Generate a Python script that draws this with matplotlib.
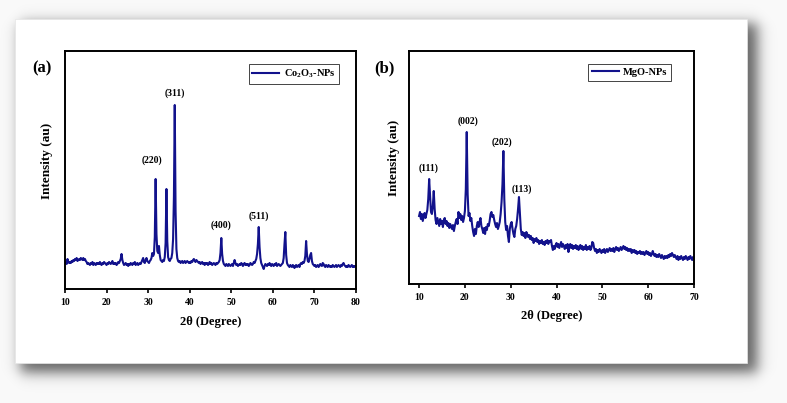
import numpy as np
import matplotlib
matplotlib.use("Agg")
import matplotlib.pyplot as plt
from matplotlib.patches import Rectangle

# ---------------- data ----------------
# Panel (a): Co3O4 nanoparticles, 2theta 10..80 deg, step 0.2
two_theta_a = np.round(np.arange(10.0, 80.01, 0.2), 1)
intensity_a = [
    26, 27, 25, 30, 27, 26, 27, 26, 28, 27,
    29, 28, 30, 29, 31, 28, 29, 30, 29, 31,
    30, 29, 31, 29, 30, 28, 27, 25, 26, 25,
    24, 26, 25, 27, 24, 26, 25, 24, 26, 25,
    26, 25, 27, 25, 24, 26, 25, 27, 26, 25,
    24, 26, 25, 27, 26, 25, 26, 28, 25, 26,
    25, 26, 24, 25, 27, 26, 28, 30, 35, 29,
    26, 24, 25, 26, 24, 25, 23, 25, 24, 26,
    25, 24, 26, 25, 27, 24, 25, 26, 24, 25,
    26, 25, 27, 29, 31, 27, 26, 29, 31, 28,
    27, 26, 28, 29, 31, 36, 33, 35, 52, 110,
    55, 38, 36, 43, 34, 29, 28, 27, 29, 28,
    32, 46, 100, 48, 32, 29, 28, 30, 31, 36,
    50, 92, 184, 78, 40, 31, 28, 27, 28, 26,
    27, 28, 26, 27, 28, 26, 27, 28, 27, 26,
    27, 26, 28, 27, 29, 30, 28, 27, 29, 28,
    27, 26, 27, 25, 26, 27, 25, 26, 24, 26,
    25, 26, 24, 25, 27, 25, 26, 24, 25, 26,
    25, 24, 26, 25, 26, 27, 29, 36, 51, 35,
    28, 25, 24, 23, 25, 24, 23, 25, 24, 23,
    24, 25, 23, 26, 29, 26, 24, 25, 23, 24,
    25, 24, 26, 25, 23, 25, 26, 24, 25, 24,
    25, 23, 24, 26, 25, 24, 25, 27, 26, 28,
    30, 35, 45, 62, 42, 31, 26, 24, 22, 20,
    23, 25, 24, 23, 25, 24, 26, 24, 23, 25,
    24, 23, 25, 24, 26, 23, 24, 25, 24, 23,
    24, 25, 26, 31, 45, 57, 34, 26, 24, 23,
    22, 24, 23, 22, 24, 23, 21, 23, 24, 22,
    23, 24, 22, 25, 26, 25, 27, 26, 28, 33,
    48, 35, 28, 27, 30, 34, 36, 28, 25, 24,
    23, 24, 22, 23, 24, 22, 23, 25, 24, 23,
    26, 25, 23, 22, 24, 23, 22, 24, 23, 22,
    23, 22, 24, 23, 22, 23, 24, 22, 23, 24,
    23, 22, 24, 23, 25, 26, 24, 23, 22, 23,
    22, 24, 23, 22, 23, 24, 22, 23, 22, 23,
    23,
]

# Panel (b): MgO nanoparticles, 2theta 10..70 deg, step 0.2
two_theta_b = np.round(np.arange(10.0, 70.01, 0.2), 1)
intensity_b = [
    68, 72, 65, 70, 63, 67, 71, 66, 70, 74,
    85, 105, 88, 72, 70, 78, 93, 75, 64, 60,
    66, 62, 58, 65, 60, 63, 57, 64, 66, 60,
    63, 58, 61, 56, 60, 57, 55, 59, 53, 58,
    62, 65, 60, 72, 66, 70, 64, 68, 62, 66,
    73, 95, 152, 90, 68, 71, 63, 66, 58, 52,
    48, 55, 50, 58, 62, 57, 62, 66, 58, 55,
    51, 56, 50, 57, 54, 60, 58, 63, 70, 72,
    67, 69, 64, 60, 57, 61, 55, 58, 62, 70,
    82, 100, 133, 85, 62, 54, 58, 48, 42, 55,
    60, 62, 55, 50, 47, 55, 58, 65, 75, 87,
    70, 55, 49, 52, 48, 51, 46, 52, 50, 47,
    49, 45, 48, 44, 46, 41, 45, 43, 46, 42,
    44, 40, 43, 41, 44, 40, 42, 39, 43, 41,
    44, 40, 43, 42, 44, 38, 34, 38, 35, 39,
    41, 37, 40, 36, 39, 42, 37, 40, 38, 35,
    39, 36, 40, 32, 37, 40, 36, 39, 35, 38,
    36, 39, 35, 38, 34, 37, 39, 35, 38, 34,
    37, 35, 39, 34, 37, 35, 38, 34, 36, 42,
    41, 36, 33, 35, 31, 34, 32, 35, 33, 31,
    34, 32, 35, 31, 33, 35, 32, 34, 36, 33,
    35, 33, 36, 32, 35, 37, 34, 36, 33, 35,
    37, 34, 36, 38, 35, 37, 34, 36, 33, 35,
    33, 35, 31, 34, 32, 34, 31, 33, 30, 32,
    31, 33, 30, 32, 30, 32, 29, 31, 33, 30,
    32, 29, 31, 28, 30, 33, 30, 28, 30, 27,
    29, 27, 30, 28, 26, 29, 27, 25, 28, 26,
    28, 26, 29, 27, 30, 28, 31, 29, 27, 29,
    27, 25, 28, 24, 27, 25, 28, 26, 24, 27,
    25, 28, 26, 24, 27, 25, 28, 26, 24, 27,
    26,
]

peaks_a_labels = ["(220)", "(311)", "(400)", "(511)"]
peaks_a_pos = [(30.93, 129), (36.46, 196), (47.53, 64), (56.67, 73)]
peaks_b_labels = ["(111)", "(002)", "(202)", "(113)"]
peaks_b_pos = [(12.03, 116), (20.76, 163), (28.04, 142), (32.41, 95)]

xticks_a = [10, 20, 30, 40, 50, 60, 70, 80]
xticks_b = [10, 20, 30, 40, 50, 60, 70]

assert len(intensity_a) == len(two_theta_a)
assert len(intensity_b) == len(two_theta_b)

# ---------------- style ----------------
SERIF = ["Liberation Serif", "DejaVu Serif"]
plt.rcParams["font.family"] = SERIF
plt.rcParams["font.weight"] = "bold"
plt.rcParams["mathtext.fontset"] = "custom"
plt.rcParams["mathtext.rm"] = "Liberation Serif:bold"
plt.rcParams["mathtext.it"] = "Liberation Serif:bold"
plt.rcParams["mathtext.bf"] = "Liberation Serif:bold"
plt.rcParams["mathtext.default"] = "rm"

LINE = "#12128c"
W, H = 787, 403
fig = plt.figure(figsize=(W / 100, H / 100), dpi=100)
fig.patch.set_facecolor("#f9f9f9")

# drop shadow of the white card
yy, xx = np.mgrid[0:H, 0:W].astype(float)
def band(v, lo, hi, s):
    return 1.0 / (1.0 + np.exp(-(v - lo) / s)) / (1.0 + np.exp((v - hi) / s))
alpha = 0.6 * band(xx, 20, 757, 4.0) * band(yy, 23, 372, 4.0)
shadow = np.zeros((H, W, 4))
shadow[..., 3] = alpha
fig.figimage(shadow, 0, 0, origin="upper", zorder=-3)
card = Rectangle((15 / W, 40 / H), 732 / W, 344 / H, transform=fig.transFigure,
                 facecolor="white", edgecolor="#e6e6e6", lw=0.5, zorder=-2)
fig.add_artist(card)

def setup(ax, xs, ys, xlim, ylim, xticks, label, legend_anchor,
          xlab_xy, ylab_xy, peak_labels, peak_pos):
    ax.plot(xs, ys, color=LINE, lw=1.5, label=label)
    ax.set_xlim(*xlim)
    ax.set_ylim(*ylim)
    ax.set_xticks(xticks)
    ax.set_yticks([])
    for s in ax.spines.values():
        s.set_linewidth(1.4)
    ax.tick_params(axis="x", direction="out", length=3, width=1.2, pad=3.5,
                   labelsize=7)
    for t in ax.get_xticklabels():
        t.set_fontweight("bold")
    ax.set_xlabel("2θ (Degree)", fontsize=9, fontweight="bold")
    ax.xaxis.set_label_coords(*xlab_xy)
    ax.xaxis.label.set_va("center")
    ax.set_ylabel("Intensity (au)", fontsize=9.5, fontweight="bold")
    ax.yaxis.set_label_coords(*ylab_xy)
    ax.yaxis.label.set_va("center")
    for txt, (px, py) in zip(peak_labels, peak_pos):
        ax.text(px, py, txt, ha="center", va="center", fontsize=7,
                fontweight="bold")
    leg = ax.legend(loc="upper right", bbox_to_anchor=legend_anchor,
                    borderaxespad=0, fancybox=False, framealpha=1,
                    edgecolor="#444444", prop={"size": 7.5, "weight": "bold"},
                    handlelength=2.6, handletextpad=0.4, borderpad=0.35)
    leg.get_frame().set_linewidth(0.7)
    ax.set_zorder(2)

ax1 = fig.add_axes([65 / W, (H - 289) / H, (356 - 65) / W, (289 - 51) / H])
setup(ax1, two_theta_a, intensity_a, (10, 80), (0, 238), xticks_a,
      "Co$_2$O$_3$-NPs", (0.9416, 0.945), (0.5, -0.137), (-0.063, 0.538),
      peaks_a_labels, peaks_a_pos)

ax2 = fig.add_axes([409 / W, (H - 284) / H, (694 - 409) / W, (284 - 51) / H])
setup(ax2, two_theta_b, intensity_b, (7.8, 70), (0, 233), xticks_b,
      "MgO-NPs", (0.919, 0.944), (0.502, -0.137), (-0.053, 0.541),
      peaks_b_labels, peaks_b_pos)

fig.text(41.5 / W, 1 - 68 / H, "(a)", ha="center", va="center",
         fontsize=12, fontweight="bold")
fig.text(384 / W, 1 - 68 / H, "(b)", ha="center", va="center",
         fontsize=12, fontweight="bold")

fig.savefig("out.png", dpi=100, facecolor=fig.get_facecolor())
